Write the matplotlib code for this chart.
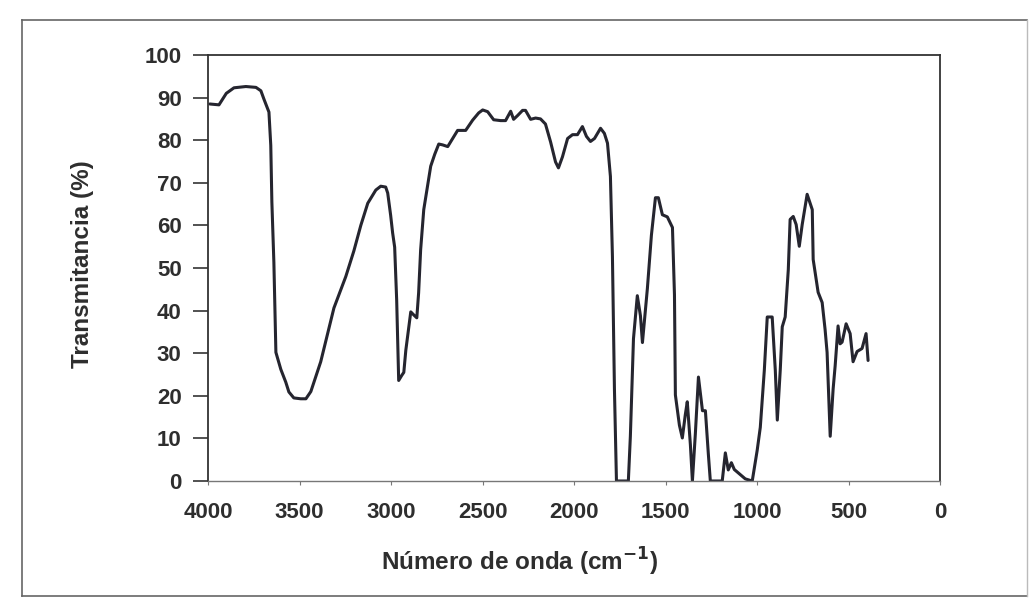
import matplotlib
matplotlib.use("Agg")
import matplotlib.pyplot as plt
from matplotlib.lines import Line2D

plt.rcParams['font.family'] = ['Liberation Sans', 'DejaVu Sans']

# espectro IR: numero de onda (cm-1) y transmitancia (%)
numero_onda = [3990, 3940, 3900, 3858, 3793, 3738, 3711, 3694, 3667, 3657, 3651,
               3640, 3629, 3602, 3575, 3558, 3531, 3493, 3465, 3438, 3384,
               3312, 3247, 3203, 3165, 3127, 3083, 3056, 3029, 3018, 3002,
               2991, 2980, 2969, 2963, 2958, 2941, 2930, 2919, 2892, 2876,
               2859, 2849, 2838, 2821, 2799, 2783, 2761, 2739, 2718, 2690,
               2663, 2636, 2592, 2554, 2521, 2499, 2472, 2439, 2401, 2374,
               2346, 2330, 2308, 2281, 2265, 2237, 2210, 2183, 2156, 2128,
               2101, 2085, 2063, 2035, 2008, 1981, 1954, 1932, 1910, 1888,
               1855, 1834, 1817, 1801, 1790, 1779, 1768, 1735, 1703, 1692,
               1675, 1654, 1637, 1626, 1599, 1577, 1555, 1539, 1517, 1490,
               1462, 1451, 1446, 1424, 1408, 1392, 1381, 1364, 1353, 1337,
               1320, 1298, 1282, 1266, 1255, 1190, 1173, 1157, 1140, 1124,
               1091, 1064, 1026, 999, 982, 960, 944, 917, 900, 889,
               873, 862, 846, 829, 819, 802, 786, 769, 753, 726,
               698, 693, 666, 644, 628, 617, 600, 584, 573, 557,
               546, 535, 513, 491, 475, 453, 426, 404, 393]
transmitancia = [88.5, 88.3, 91.0, 92.3, 92.6, 92.4, 91.6, 89.6, 86.6, 78.8, 65.5,
                 51.3, 30.2, 26.2, 23.2, 20.9, 19.5, 19.3, 19.3, 21.0, 28.0,
                 40.6, 48.0, 54.0, 60.0, 65.2, 68.3, 69.2, 69.0, 67.6, 62.4,
                 58.2, 54.9, 42.5, 32.3, 23.6, 24.8, 25.5, 30.7, 39.7, 39.0,
                 38.3, 44.2, 54.3, 63.7, 69.6, 73.9, 76.7, 79.1, 78.9, 78.5,
                 80.4, 82.3, 82.3, 84.7, 86.4, 87.1, 86.7, 84.8, 84.6, 84.6,
                 86.8, 84.9, 85.8, 87.0, 87.0, 84.9, 85.2, 85.0, 83.8, 79.6,
                 74.9, 73.5, 76.1, 80.4, 81.3, 81.3, 83.2, 80.9, 79.7, 80.4,
                 82.8, 81.6, 79.3, 71.5, 52.7, 21.5, 0.0, 0.0, 0.0, 10.5,
                 33.4, 43.5, 38.8, 32.5, 45.2, 57.7, 66.5, 66.5, 62.5, 62.0,
                 59.5, 43.7, 20.2, 13.1, 10.1, 15.5, 18.6, 8.5, 0.0, 11.0,
                 24.4, 16.5, 16.5, 6.4, 0.0, 0.0, 6.6, 2.6, 4.3, 2.7,
                 1.5, 0.5, 0.0, 7.2, 12.6, 26.0, 38.5, 38.5, 26.0, 14.3,
                 26.0, 36.2, 38.5, 49.6, 61.4, 62.1, 60.2, 55.1, 60.2, 67.3,
                 63.7, 52.0, 44.3, 41.9, 35.6, 30.2, 10.5, 21.6, 27.0, 36.4,
                 32.2, 32.6, 36.9, 34.6, 28.0, 30.4, 31.1, 34.6, 28.3]

x_ticks = [4000, 3500, 3000, 2500, 2000, 1500, 1000, 500, 0]
y_ticks = [0, 10, 20, 30, 40, 50, 60, 70, 80, 90, 100]

texto = '#2e2e2e'

fig = plt.figure(figsize=(10.32, 6.06), dpi=100)
ax = fig.add_axes([208 / 1032, 1 - 481 / 606, 732 / 1032, 426 / 606])

ax.plot(numero_onda, transmitancia, color='#25252f', lw=2.2,
        solid_joinstyle='round', solid_capstyle='round')

ax.set_xlim(4000, 0)
ax.set_ylim(0, 100)
ax.set_xticks(x_ticks)
ax.set_yticks(y_ticks)
ax.tick_params(axis='y', direction='out', length=11, width=1.2, pad=8,
               labelsize=16, colors='#333333', labelcolor=texto)
ax.tick_params(axis='x', direction='out', length=3, width=0.8, pad=12,
               labelsize=16, colors='#777777', labelcolor=texto)
for lab in ax.get_xticklabels() + ax.get_yticklabels():
    lab.set_fontweight('bold')

for s in ax.spines.values():
    s.set_color('#333333')
    s.set_linewidth(1.3)
ax.spines['bottom'].set_color('#777777')
ax.spines['bottom'].set_linewidth(1.0)

ax.set_xlabel('Número de onda (cm$^{\\mathbf{-1}}$)', fontsize=17.5, fontweight='bold',
              color=texto)
ax.set_ylabel('Transmitancia (%)', fontsize=17.5, fontweight='bold', color=texto)
ax.xaxis.set_label_coords((520 - 208) / 732, (481 - 546) / 426)
ax.yaxis.set_label_coords((94 - 208) / 732, (481 - 264) / 426)

# marco exterior del grafico
borde = dict(color='#666666', lw=1.2, transform=fig.transFigure)
izq, der, arr, aba = 22 / 1032, 1027 / 1032, 1 - 20 / 606, 1 - 596 / 606
fig.add_artist(Line2D([izq, der], [arr, arr], **borde))
fig.add_artist(Line2D([izq, der], [aba, aba], **borde))
fig.add_artist(Line2D([izq, izq], [arr, aba], **borde))
fig.add_artist(Line2D([der, der], [arr, aba], color='#bbbbbb', lw=1.0, transform=fig.transFigure))

fig.savefig('out.png', dpi=100, facecolor='white')
